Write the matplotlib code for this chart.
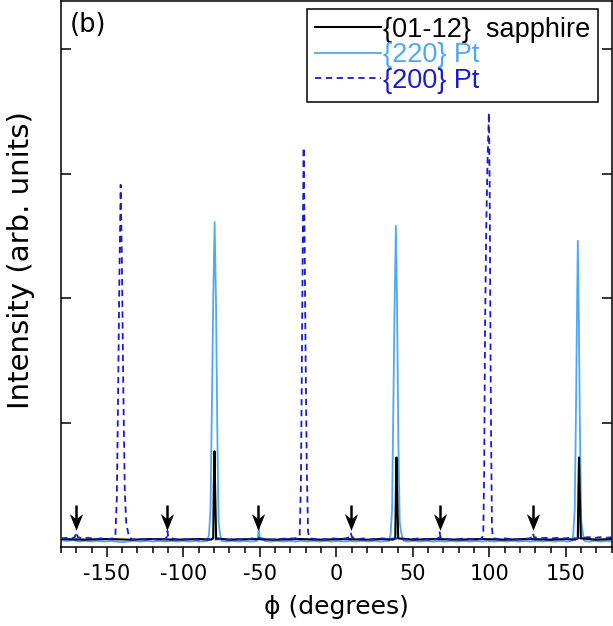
import matplotlib
matplotlib.use('Agg')
import matplotlib.pyplot as plt
from matplotlib.path import Path
import numpy as np

plt.rcParams['font.family'] = ['DejaVu Sans']
plt.rcParams['axes.unicode_minus'] = False

# {01-12} sapphire (phi in degrees, intensity in arb. units)
sapph_phi = [-180, -165, -150, -135, -120, -105, -90, -82, -80.5, -80.1, -79.7, -79.3, -78.6,
             -70, -55, -40, -25, -10, 5, 20, 30, 37, 38.5, 38.9, 39.3, 39.7, 40.4,
             50, 65, 80, 95, 110, 125, 140, 150, 156, 157.8, 158.2, 158.6, 159.0, 159.8, 170, 180]
sapph_int = [0.065, 0.06, 0.065, 0.06, 0.065, 0.06, 0.065, 0.06, 0.07, 0.5, 0.77, 0.5, 0.07,
             0.06, 0.065, 0.06, 0.065, 0.06, 0.065, 0.06, 0.065, 0.06, 0.07, 0.45, 0.72, 0.45, 0.07,
             0.06, 0.065, 0.06, 0.065, 0.06, 0.065, 0.06, 0.065, 0.06, 0.07, 0.45, 0.72, 0.45, 0.07, 0.06, 0.065]

# {220} Pt
pt220_phi = [-180, -176, -172, -168, -164, -160, -156, -152, -148, -144, -140, -136, -132, -128,
             -124, -120, -116, -112, -108, -104, -100, -96, -92, -88, -84.3,
             -83.3, -82.3, -81.4, -80.5, -79.6, -78.7, -77.8, -77.0, -76.2, -75.2,
             -72, -68, -64, -60, -56, -52, -51.3, -50.7, -50.1, -47, -43, -39, -35, -31, -27,
             -23, -19, -15, -11, -7, -3, 1, 5, 9, 13, 17, 21, 25, 29, 33, 34.5,
             35.4, 36.4, 37.2, 38.0, 38.9, 39.7, 40.5, 41.4, 42.3, 43.1, 44.0,
             47, 51, 55, 59, 63, 67, 71, 75, 79, 83, 87, 91, 95, 99, 103, 107, 111, 115,
             119, 123, 127, 131, 135, 139, 143, 147, 151, 154,
             154.8, 155.8, 156.6, 157.2, 157.8, 158.5, 159.3, 160.1, 161.0, 161.9,
             165, 169, 173, 177, 180]
pt220_int = [0.055, 0.05, 0.055, 0.045, 0.05, 0.045, 0.05, 0.045, 0.05, 0.045, 0.04, 0.045, 0.05, 0.045,
             0.05, 0.045, 0.05, 0.045, 0.05, 0.045, 0.05, 0.045, 0.05, 0.045, 0.05,
             0.1, 0.3, 1.1, 1.98, 2.61, 1.98, 0.9, 0.2, 0.12, 0.05,
             0.045, 0.05, 0.045, 0.05, 0.045, 0.05, 0.07, 0.17, 0.07, 0.05, 0.045, 0.05, 0.045, 0.05, 0.045,
             0.05, 0.045, 0.05, 0.045, 0.05, 0.045, 0.05, 0.045, 0.05, 0.045, 0.05, 0.045, 0.05, 0.045, 0.05, 0.05,
             0.1, 0.3, 1.1, 1.9, 2.58, 1.9, 0.85, 0.2, 0.12, 0.08, 0.05,
             0.045, 0.05, 0.045, 0.05, 0.045, 0.05, 0.045, 0.05, 0.045, 0.05, 0.045, 0.05, 0.045, 0.05, 0.045, 0.05, 0.045, 0.05,
             0.045, 0.05, 0.045, 0.05, 0.045, 0.05, 0.045, 0.05, 0.045, 0.05,
             0.1, 0.3, 1.1, 1.8, 2.46, 1.8, 0.8, 0.2, 0.12, 0.05,
             0.045, 0.05, 0.045, 0.05, 0.045]

# {200} Pt
pt200_phi = [-180, -176, -173, -171, -170, -169, -166, -162, -158, -154, -150, -146,
             -144.5, -143.5, -142.6, -141.8, -141.0, -140.2, -139.3, -138.3, -137.3, -136.5, -135.5,
             -133, -128, -124, -120, -116, -112, -110.9, -110.4, -109.9, -106, -100, -95, -90, -85,
             -80, -75, -70, -65, -60, -55, -51, -47, -42, -37, -32, -28, -25,
             -24.0, -23.2, -22.6, -22.0, -21.4, -20.8, -20.1, -19.3, -18.5, -17.5,
             -14, -10, -6, -2, 2, 6, 8.8, 9.5, 10.2, 14, 18, 22, 26, 30, 34, 38, 42, 46, 50,
             54, 58, 62, 66, 67, 67.5, 68, 72, 76, 80, 84, 88, 92, 95,
             96.0, 96.6, 97.2, 98.0, 98.8, 99.7, 100.2, 100.6, 101.1, 101.7, 102.5,
             106, 110, 114, 118, 122, 126, 127.8, 128.5, 129.2, 133, 137, 141, 145, 149,
             153, 157, 161, 165, 169, 173, 177, 180]
pt200_int = [0.07, 0.075, 0.07, 0.08, 0.12, 0.08, 0.07, 0.075, 0.065, 0.07, 0.065, 0.07,
             0.08, 0.4, 1.3, 2.2, 2.91, 2.3, 1.3, 0.45, 0.18, 0.14, 0.08,
             0.06, 0.065, 0.06, 0.065, 0.06, 0.065, 0.08, 0.13, 0.08, 0.065, 0.06, 0.065, 0.06, 0.065,
             0.06, 0.065, 0.06, 0.065, 0.06, 0.07, 0.075, 0.065, 0.06, 0.065, 0.07, 0.07, 0.075,
             0.09, 0.5, 1.4, 2.4, 3.21, 2.5, 1.5, 0.6, 0.12, 0.07,
             0.065, 0.06, 0.065, 0.07, 0.065, 0.07, 0.08, 0.11, 0.08, 0.065, 0.07, 0.06, 0.065, 0.07, 0.065, 0.07, 0.065, 0.06, 0.065,
             0.07, 0.065, 0.06, 0.065, 0.08, 0.12, 0.08, 0.065, 0.06, 0.065, 0.07, 0.065, 0.06, 0.07,
             0.1, 0.6, 1.8, 2.6, 3.1, 3.49, 2.9, 1.9, 0.9, 0.15, 0.07,
             0.065, 0.07, 0.065, 0.06, 0.065, 0.07, 0.08, 0.11, 0.08, 0.07, 0.075, 0.07, 0.075, 0.07,
             0.075, 0.07, 0.075, 0.08, 0.075, 0.08, 0.075, 0.08]

# arrows marking the weak extra peaks
arrow_phi = [-170, -110.5, -51, 9.5, 67.5, 128.5]
arrow_top = 0.34
arrow_head = 0.205

col220 = '#4fa8f7'
col200 = '#1a1ad0'

fig = plt.figure(figsize=(6.13, 6.26), dpi=100)
ax = fig.add_axes([0.0995, 0.126, 0.8985, 0.873])

l220, = ax.plot(pt220_phi, pt220_int, color=col220, lw=1.3, zorder=2, label='{220} Pt')
lsap, = ax.plot(sapph_phi, sapph_int, color='black', lw=1.5, zorder=3, label='{01-12}  sapphire')
l200, = ax.plot(pt200_phi, pt200_int, color=col200, lw=1.3, dashes=(3.5, 2.5), zorder=4, label='{200} Pt')

# arrow: stem + notched head marker
head = Path([(0, -0.5), (-0.4, 0.5), (0, 0.2), (0.4, 0.5), (0, -0.5)],
            [Path.MOVETO, Path.LINETO, Path.LINETO, Path.LINETO, Path.CLOSEPOLY])
ax.vlines(arrow_phi, arrow_head, arrow_top, color='black', lw=1.8, zorder=5)
ax.plot(arrow_phi, [arrow_head] * len(arrow_phi), ls='none', marker=head, ms=12,
        color='black', mew=0, zorder=5)

ax.set_xlim(-180, 180)
ax.set_ylim(0, 4.39)
ax.set_xticks([-150, -100, -50, 0, 50, 100, 150])
ax.set_xticks(np.arange(-180, 181, 10), minor=True)
ax.set_yticks([1, 2, 3, 4])
ax.set_yticklabels([])
ax.tick_params(axis='x', which='major', direction='out', length=7, width=1.1, labelsize=15, pad=5)
ax.tick_params(axis='x', which='minor', direction='out', length=4.5, width=1.1)
ax.tick_params(axis='y', which='major', direction='in', length=7, width=1.1, left=True, right=True)
for s in ax.spines.values():
    s.set_linewidth(1.1)

ax.set_xlabel('ϕ (degrees)', fontsize=18, labelpad=8)
ax.set_ylabel('Intensity (arb. units)', fontsize=21)
ax.yaxis.set_label_coords(-0.047, 0.525)

ax.text(0.016, 0.98, '(b)', transform=ax.transAxes, fontsize=18.5, va='top', ha='left')

leg = ax.legend(handles=[lsap, l220, l200], loc='upper right', bbox_to_anchor=(0.975, 0.985),
                borderaxespad=0, fancybox=False, framealpha=1, edgecolor='black',
                prop={'family': ['Liberation Sans', 'DejaVu Sans'], 'size': 19.5},
                handlelength=2.45, handletextpad=0.05, labelspacing=-0.02, borderpad=0.3,
                labelcolor='linecolor')
leg.get_frame().set_linewidth(1.1)

fig.savefig('out.png', dpi=100)
